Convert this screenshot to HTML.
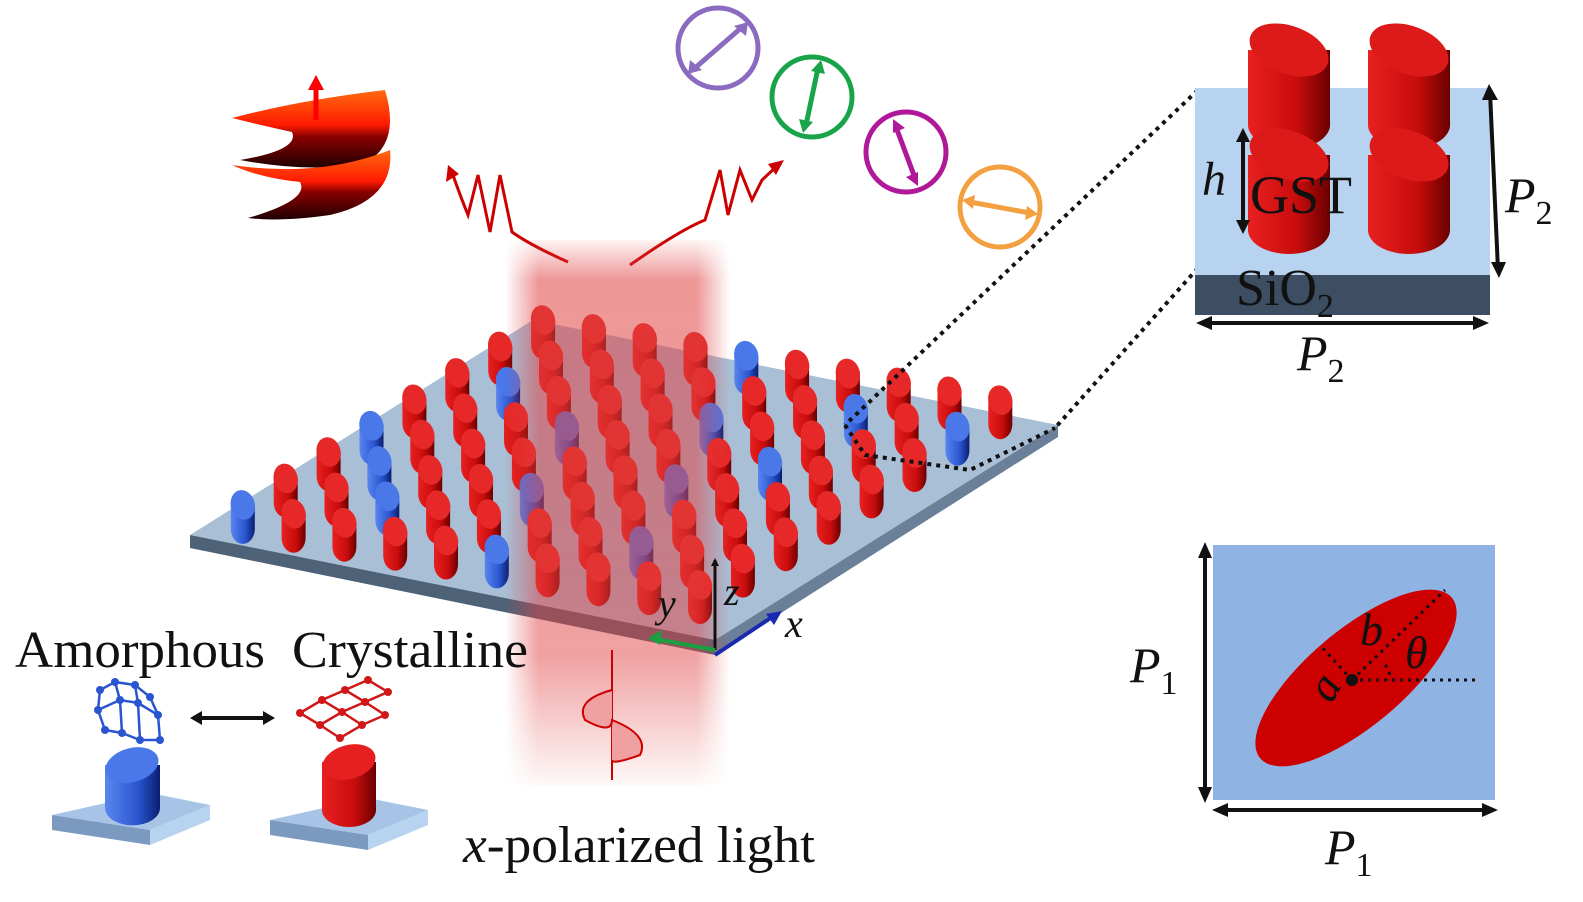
<!DOCTYPE html>
<html><head><meta charset="utf-8"><style>
html,body{margin:0;padding:0;background:#fff;width:1583px;height:902px;overflow:hidden}
svg{display:block}
text{font-family:"Liberation Serif",serif;fill:#111}
</style></head><body>
<svg id="s" width="1583" height="902" viewBox="0 0 1583 902" xmlns="http://www.w3.org/2000/svg">
<defs>
<linearGradient id="red" x1="0" x2="1"><stop offset="0" stop-color="#e82020"/><stop offset="0.6" stop-color="#c80c0c"/><stop offset="1" stop-color="#6a0000"/></linearGradient>
<linearGradient id="blue" x1="0" x2="1"><stop offset="0" stop-color="#5a86f0"/><stop offset="0.6" stop-color="#2a55d0"/><stop offset="1" stop-color="#0a1e70"/></linearGradient>
<linearGradient id="beam" x1="0" x2="1"><stop offset="0" stop-color="#e04040" stop-opacity="0"/><stop offset="0.15" stop-color="#e04040" stop-opacity="0.55"/><stop offset="0.85" stop-color="#e04040" stop-opacity="0.55"/><stop offset="1" stop-color="#e04040" stop-opacity="0"/></linearGradient>
<linearGradient id="beamv" x1="0" y1="0" x2="0" y2="1"><stop offset="0" stop-color="#fff" stop-opacity="0"/><stop offset="0.08" stop-color="#fff" stop-opacity="1"/><stop offset="0.75" stop-color="#fff" stop-opacity="0.9"/><stop offset="1" stop-color="#fff" stop-opacity="0"/></linearGradient>
<mask id="bm"><rect x="500" y="235" width="240" height="560" fill="url(#beamv)"/></mask>
<linearGradient id="spir" x1="0" y1="0" x2="0" y2="1"><stop offset="0" stop-color="#ff6a10"/><stop offset="0.45" stop-color="#ff1a00"/><stop offset="0.6" stop-color="#8a0000"/><stop offset="1" stop-color="#200000"/></linearGradient>
<marker id="ar" markerWidth="8" markerHeight="8" refX="6" refY="4" orient="auto" markerUnits="userSpaceOnUse"><path d="M0,0 L8,4 L0,8 z" fill="#111"/></marker>
</defs>

<!-- spiral -->
<path d="M232,118 Q300,100 385,90 Q400,140 370,160 Q320,175 240,160 Q300,150 292,132 Q260,125 232,118 Z" fill="url(#spir)"/>
<path d="M232,165 Q320,178 390,150 Q395,200 330,215 Q280,222 248,218 Q310,200 300,182 Q260,178 232,165 Z" fill="url(#spir)"/>
<path d="M316,120 V82" stroke="#f00" stroke-width="5"/><path d="M308,90 L316,75 L324,90 Z" fill="#f00"/>

<!-- wavy arrows -->
<path d="M568,262 Q530,245 512,232 L500,175 L490,232 L478,175 L468,215 Q458,190 452,172" fill="none" stroke="#c00" stroke-width="3"/>
<path d="M448,165 L446,182 L459,174 Z" fill="#c00"/>
<path d="M630,265 Q680,230 705,220 L720,170 L728,215 L740,170 L752,200 L762,180 L778,165" fill="none" stroke="#c00" stroke-width="3"/>
<path d="M784,160 L768,164 L776,175 Z" fill="#c00"/>

<!-- polarization circles -->
<g fill="none" stroke-width="5">
<circle cx="718" cy="48" r="40" stroke="#8a6bbf"/><circle cx="812" cy="97" r="40" stroke="#1aa44a"/>
<circle cx="906" cy="152" r="40" stroke="#b0189a"/><circle cx="1000" cy="207" r="40" stroke="#f3a040"/>
<path d="M695,68 L741,28" stroke="#8a6bbf"/><path d="M806,125 L818,68" stroke="#1aa44a"/>
<path d="M896,127 L915,178" stroke="#b0189a"/><path d="M970,202 L1030,213" stroke="#f3a040"/>
</g>
<g>
<path d="M688,74 L690,60 L702,70Z M748,22 L746,36 L734,26Z" fill="#8a6bbf"/>
<path d="M803,133 L799,119 L813,122Z M821,60 L825,74 L811,71Z" fill="#1aa44a"/>
<path d="M893,119 L893,133 L905,128Z M918,186 L918,172 L906,177Z" fill="#b0189a"/>
<path d="M962,200 L975,195 L973,209Z M1038,214 L1025,220 L1027,206Z" fill="#f3a040"/>
</g>

<!-- substrate -->
<path d="M190,535 L533,320 L1058,425 L715,640 Z" fill="#a9bfd6"/>
<path d="M190,535 L715,640 L715,655 L190,548 Z" fill="#4e6277"/>
<path d="M715,640 L1058,425 L1058,437 L715,655 Z" fill="#6a8098"/>
<g id="pillars"></g>

<!-- beam -->
<rect x="505" y="240" width="225" height="545" fill="url(#beam)" mask="url(#bm)"/>
<path d="M612,650 V780" stroke="#c00" stroke-width="2"/>
<path d="M612,690 Q575,700 585,720 Q612,735 612,720 Q650,735 640,755 Q612,765 612,760" fill="#f0a0a0" stroke="#c00" stroke-width="2"/>

<!-- axes -->
<path d="M715,650 V560" stroke="#111" stroke-width="3" marker-end="url(#ar)"/>
<path d="M715,650 L650,638" stroke="#1aa040" stroke-width="4"/><path d="M648,638 L662,630 L660,645 Z" fill="#1aa040"/>
<path d="M715,655 L775,615" stroke="#1a2ab0" stroke-width="4"/><path d="M782,611 L766,614 L774,625 Z" fill="#1a2ab0"/>
<text x="658" y="617" font-size="40" font-style="italic">y</text>
<text x="724" y="605" font-size="40" font-style="italic">z</text>
<text x="785" y="637" font-size="40" font-style="italic">x</text>

<!-- dotted lines -->
<g stroke="#111" stroke-width="4" stroke-dasharray="4,5" fill="none">
<path d="M1198,90 L845,425"/><path d="M1198,268 L1055,428"/>
<path d="M845,425 L865,455 L970,470 L1055,428"/>
</g>

<!-- top right block -->
<path d="M1195,88 L1490,88 L1490,275 L1195,275 Z" fill="#b8d3ef"/>
<path d="M1195,275 L1490,275 L1490,315 L1195,315 Z" fill="#3d4e63"/>
<g id="big"></g>
<path d="M1243,133 V228" stroke="#111" stroke-width="4"/><path d="M1236,142 L1243,128 L1250,142Z M1236,220 L1243,234 L1250,220Z" fill="#111"/>
<text x="1202" y="195" font-size="48" font-style="italic">h</text>
<text x="1250" y="213" font-size="54">GST</text>
<text x="1236" y="305" font-size="52">SiO<tspan font-size="34" dy="12">2</tspan></text>
<path d="M1490,92 L1498,270" stroke="#111" stroke-width="4"/><path d="M1482,100 L1489,84 L1498,100Z M1491,262 L1499,278 L1506,262Z" fill="#111"/>
<text x="1505" y="212" font-size="50" font-style="italic">P<tspan font-size="34" dy="12" font-style="normal">2</tspan></text>
<path d="M1205,323 H1480" stroke="#111" stroke-width="4"/><path d="M1212,316 L1196,323 L1212,330Z M1473,316 L1489,323 L1473,330Z" fill="#111"/>
<text x="1297" y="370" font-size="50" font-style="italic">P<tspan font-size="34" dy="12" font-style="normal">2</tspan></text>

<!-- bottom right unit cell -->
<rect x="1213" y="545" width="282" height="255" fill="#8fb4e3"/>
<ellipse cx="1356" cy="678" rx="125" ry="48" transform="rotate(-40 1356 678)" fill="#cc0000"/>
<g stroke="#111" stroke-width="3" stroke-dasharray="3,5" fill="none">
<path d="M1352,680 H1475"/><path d="M1352,680 L1445,590"/><path d="M1352,680 L1320,645"/>
<path d="M1385,665 Q1392,672 1388,680"/>
</g>
<circle cx="1352" cy="680" r="6" fill="#111"/>
<text x="1360" y="645" font-size="46" font-style="italic">b</text>
<text x="1405" y="668" font-size="46" font-style="italic">θ</text>
<text x="1315" y="700" font-size="46" font-style="italic" transform="rotate(-60 1327 688)">a</text>
<path d="M1205,550 V795" stroke="#111" stroke-width="4"/><path d="M1198,558 L1205,542 L1212,558Z M1198,787 L1205,803 L1212,787Z" fill="#111"/>
<text x="1130" y="682" font-size="50" font-style="italic">P<tspan font-size="34" dy="12" font-style="normal">1</tspan></text>
<path d="M1220,810 H1490" stroke="#111" stroke-width="4"/><path d="M1228,803 L1212,810 L1228,817Z M1482,803 L1498,810 L1482,817Z" fill="#111"/>
<text x="1325" y="864" font-size="50" font-style="italic">P<tspan font-size="34" dy="12" font-style="normal">1</tspan></text>

<!-- bottom left -->
<text x="15" y="667" font-size="52" textLength="250" lengthAdjust="spacingAndGlyphs">Amorphous</text>
<text x="292" y="667" font-size="52" textLength="236" lengthAdjust="spacingAndGlyphs">Crystalline</text>
<path d="M200,718 H265" stroke="#111" stroke-width="4"/><path d="M202,711 L190,718 L202,725Z M263,711 L275,718 L263,725Z" fill="#111"/>
<g stroke="#2a55d0" stroke-width="2.5" fill="none">
<path d="M100,690 L115,682 L135,685 L150,697 M100,690 L98,710 L105,730 L122,733 L140,740 L160,740 M115,682 L120,700 L122,733 M135,685 L138,703 L140,740 M150,697 L158,715 L160,740 M98,710 L120,700 L138,703 L158,715"/>
</g>
<g fill="#2a55d0"><circle cx="100" cy="690" r="4"/><circle cx="115" cy="682" r="4"/><circle cx="135" cy="685" r="4"/><circle cx="150" cy="697" r="4"/><circle cx="98" cy="710" r="4"/><circle cx="120" cy="700" r="4"/><circle cx="138" cy="703" r="4"/><circle cx="158" cy="715" r="4"/><circle cx="105" cy="730" r="4"/><circle cx="122" cy="733" r="4"/><circle cx="140" cy="740" r="4"/><circle cx="160" cy="740" r="4"/></g>
<g stroke="#d01818" stroke-width="2.5" fill="none">
<path d="M300,713 L322,700 L345,690 L368,680 M320,725 L342,712 L365,702 L388,692 M340,738 L362,725 L385,715 M300,713 L320,725 L340,738 M322,700 L342,712 L362,725 M345,690 L365,702 L385,715 M368,680 L388,692"/>
</g>
<g fill="#d01818"><circle cx="300" cy="713" r="4"/><circle cx="322" cy="700" r="4"/><circle cx="345" cy="690" r="4"/><circle cx="368" cy="680" r="4"/><circle cx="320" cy="725" r="4"/><circle cx="342" cy="712" r="4"/><circle cx="365" cy="702" r="4"/><circle cx="388" cy="692" r="4"/><circle cx="340" cy="738" r="4"/><circle cx="362" cy="725" r="4"/><circle cx="385" cy="715" r="4"/></g>
<!-- small blocks -->
<path d="M52,815 L150,793 L210,805 L150,830 Z" fill="#a7c4e6"/>
<path d="M52,815 L150,830 L150,845 L52,830 Z" fill="#7c9ac0"/>
<path d="M150,830 L210,805 L210,820 L150,845 Z" fill="#b8d3ef"/>
<path d="M105,765 V808 A27,17 0 0 0 160,808 V765 Z" fill="url(#blue)"/>
<ellipse cx="132" cy="765" rx="27" ry="17" transform="rotate(-15 132 765)" fill="#4a78e8"/>
<path d="M270,820 L368,798 L428,810 L368,835 Z" fill="#a7c4e6"/>
<path d="M270,820 L368,835 L368,850 L270,835 Z" fill="#7c9ac0"/>
<path d="M368,835 L428,810 L428,825 L368,850 Z" fill="#b8d3ef"/>
<path d="M322,762 V810 A27,17 0 0 0 376,810 V762 Z" fill="url(#red)"/>
<ellipse cx="349" cy="762" rx="27" ry="17" transform="rotate(-15 349 762)" fill="#e62020"/>

<text x="463" y="862" font-size="52" textLength="352" lengthAdjust="spacingAndGlyphs"><tspan font-style="italic">x</tspan>-polarized light</text>
</svg>
<script>
(function(){
var NS="http://www.w3.org/2000/svg";
var g=document.getElementById("pillars");
var pts=[];
var blue={"0,9":1,"1,7":1,"2,5":1,"3,3":1,"4,2":1,"5,8":1,"2,8":1,"6,2":1,"7,5":1,"4,6":1,"1,2":1,"6,0":1,"5,4":1,"3,9":1,"0,4":1};
for(var i=0;i<8;i++)for(var j=0;j<10;j++){
 var x=700+j*-50.8+i*42.9, y=585+j*-8.9+i*-26.4;
 pts.push([x,y,blue[i+","+j]?1:0]);
}
pts.sort(function(a,b){return a[1]-b[1]});
pts.forEach(function(p){
 var x=p[0],y=p[1],h=24,rx=12,ry=15;
 var path=document.createElementNS(NS,"path");
 path.setAttribute("d","M"+(x-rx)+","+y+" V"+(y+h)+" A"+rx+","+ry+" 0 0 0 "+(x+rx)+","+(y+h)+" V"+y+" Z");
 path.setAttribute("fill",p[2]?"url(#blue)":"url(#red)");
 g.appendChild(path);
 var e=document.createElementNS(NS,"ellipse");
 e.setAttribute("cx",x);e.setAttribute("cy",y);e.setAttribute("rx",rx);e.setAttribute("ry",ry);
 e.setAttribute("transform","rotate(-15 "+x+" "+y+")");
 e.setAttribute("fill",p[2]?"#4a78e8":"#e62828");
 g.appendChild(e);
});
var b=document.getElementById("big");
[[1289,50],[1409,50],[1289,155],[1409,155]].forEach(function(p){
 var x=p[0],y=p[1],rx=41,ry=24,h=75;
 var path=document.createElementNS(NS,"path");
 path.setAttribute("d","M"+(x-rx)+","+y+" V"+(y+h)+" A"+rx+","+ry+" 0 0 0 "+(x+rx)+","+(y+h)+" V"+y+" Z");
 path.setAttribute("fill","url(#red)");b.appendChild(path);
 var e=document.createElementNS(NS,"ellipse");
 e.setAttribute("cx",x);e.setAttribute("cy",y);e.setAttribute("rx",rx);e.setAttribute("ry",ry);
 e.setAttribute("transform","rotate(20 "+x+" "+y+")");
 e.setAttribute("fill","#dd1a1a");b.appendChild(e);
});
})();
</script>
</body></html>
